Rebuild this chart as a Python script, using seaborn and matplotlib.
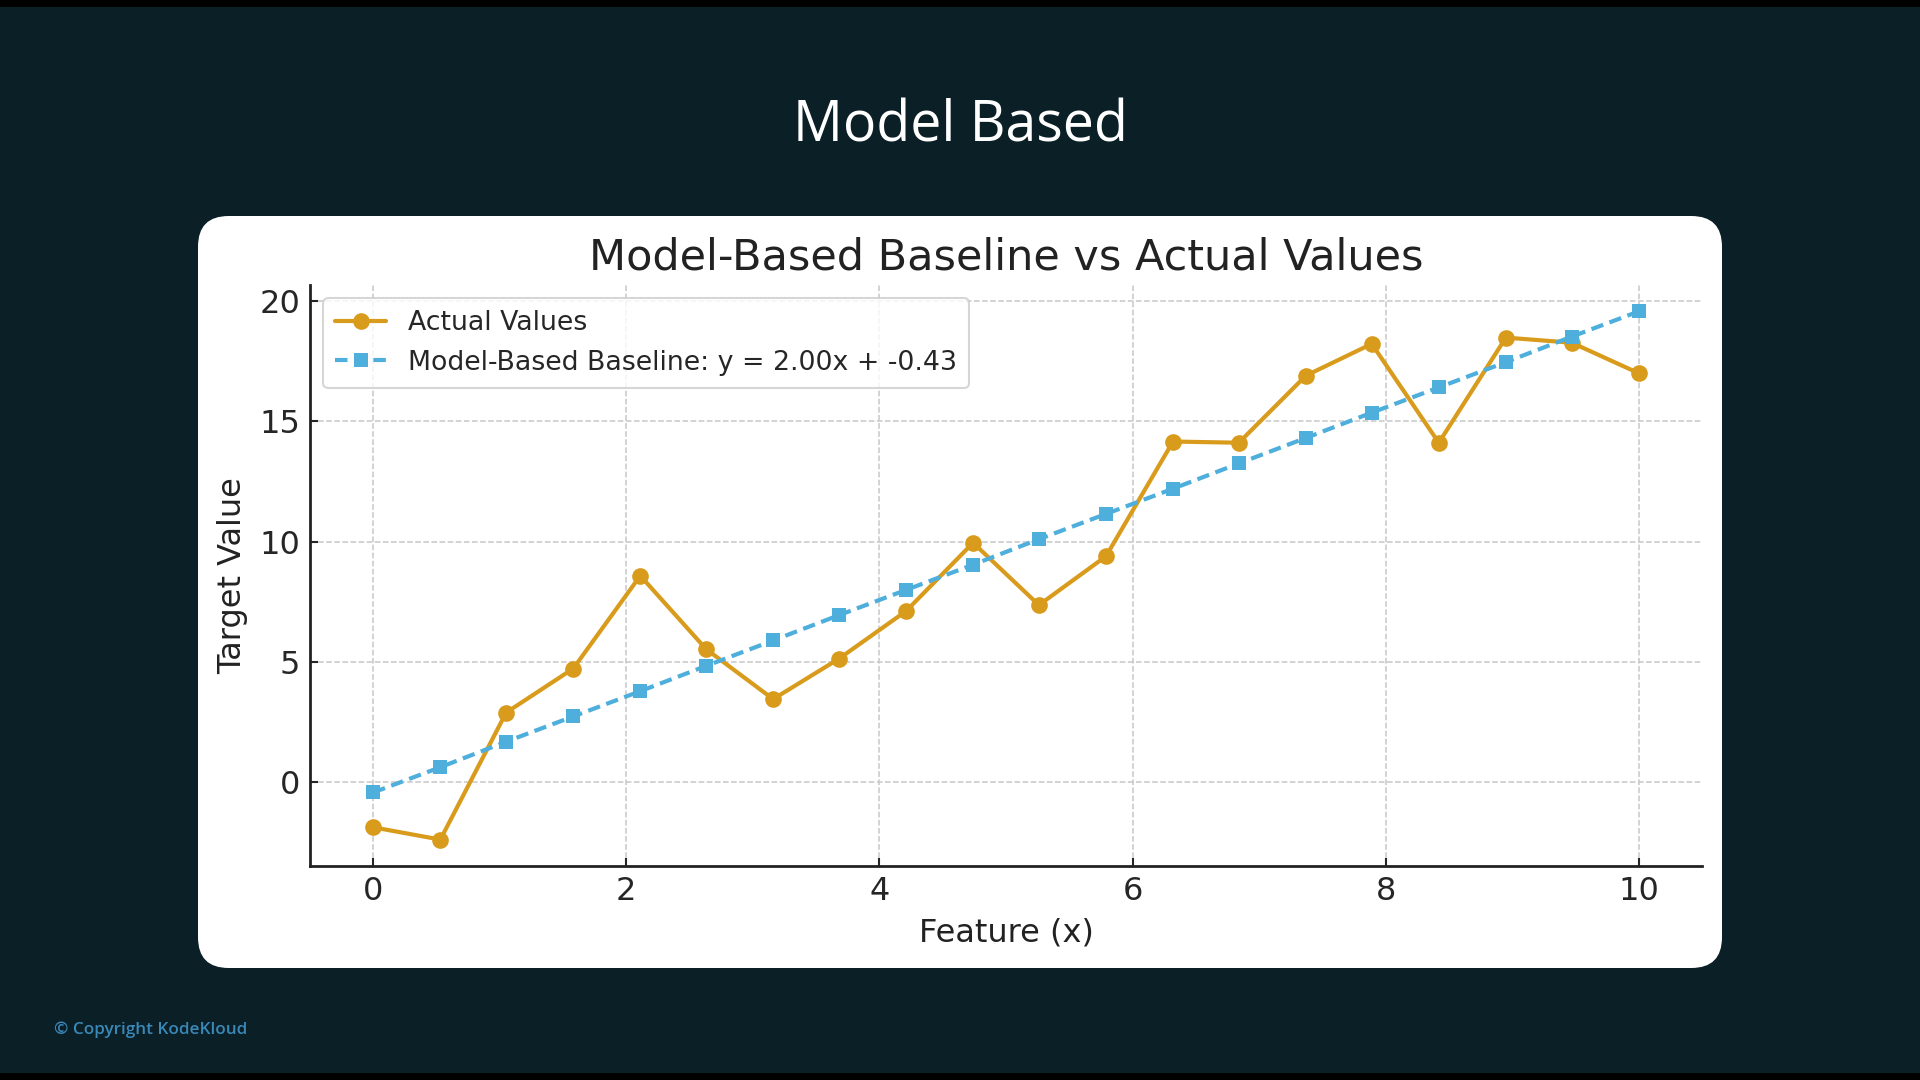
import pandas as pd
import seaborn as sns
import matplotlib.pyplot as plt
from matplotlib.patches import FancyBboxPatch, Rectangle


# feature values (20 evenly spaced points on 0..10)
feature_x = [0.00, 0.53, 1.05, 1.58, 2.11, 2.63, 3.16, 3.68, 4.21, 4.74,
             5.26, 5.79, 6.32, 6.84, 7.37, 7.89, 8.42, 8.95, 9.47, 10.00]
actual_y = [-1.88, -2.39, 2.89, 4.72, 8.58, 5.53, 3.45, 5.13, 7.11, 9.95,
            7.36, 9.39, 14.16, 14.11, 16.90, 18.22, 14.11, 18.48, 18.27, 17.00]
baseline_y = [-0.43, 0.62, 1.68, 2.73, 3.78, 4.83, 5.89, 6.94, 7.99, 9.04,
              10.10, 11.15, 12.20, 13.25, 14.31, 15.36, 16.41, 17.46, 18.52, 19.57]
baseline_label = "Model-Based Baseline: y = 2.00x + -0.43"

BG = "#0b1f27"
GOLD = "#d99b1c"
BLUE = "#4eaedc"


def make_plot(filename):
    sns.set_style("ticks")
    plt.rcParams["font.family"] = ["DejaVu Sans"]
    fig = plt.figure(figsize=(19.2, 10.8), dpi=100, facecolor=BG)

    # black strips at top and bottom of the slide
    fig.patches.append(Rectangle((0, 1 - 7 / 1080), 1, 7 / 1080, transform=fig.transFigure,
                                 facecolor="black", edgecolor="none", zorder=-10))
    fig.patches.append(Rectangle((0, 0), 1, 7 / 1080, transform=fig.transFigure,
                                 facecolor="black", edgecolor="none", zorder=-10))
    # white card behind the chart
    card = FancyBboxPatch((198 / 1920, 1 - 968 / 1080), (1722 - 198) / 1920, (968 - 216) / 1080,
                          boxstyle="round,pad=0,rounding_size=0.016", transform=fig.transFigure,
                          facecolor="white", edgecolor="none", zorder=-10, mutation_aspect=1920 / 1080)
    fig.patches.append(card)

    fig.text(0.5, 1 - 127 / 1080, "Model Based", ha="center", va="center",
             color="white", fontsize=40, family=["Open Sans", "DejaVu Sans"])
    fig.text(54 / 1920, 1 - 1030 / 1080, "\u00a9 Copyright KodeKloud", ha="left", va="center",
             color="#3a88b8", fontsize=12.3, family=["Open Sans", "DejaVu Sans"], weight="semibold")

    ax = fig.add_axes([310 / 1920, 1 - 866 / 1080, (1702 - 310) / 1920, (866 - 285) / 1080])
    ax.set_facecolor("white")

    df = pd.DataFrame({"x": feature_x, "actual": actual_y, "baseline": baseline_y})
    sns.lineplot(data=df, x="x", y="actual", ax=ax, color=GOLD, linewidth=3,
                 marker="o", markersize=12, markeredgewidth=0, label="Actual Values", zorder=3)
    sns.lineplot(data=df, x="x", y="baseline", ax=ax, color=BLUE, linewidth=3,
                 linestyle=(0, (3, 1.6)), marker="s", markersize=10.5, markeredgewidth=0,
                 label=baseline_label, zorder=3)

    ax.set_xticks([0, 2, 4, 6, 8, 10])
    ax.set_yticks([0, 5, 10, 15, 20])
    ax.grid(True, linestyle="--", color="#c8c8c8", linewidth=1.1)
    ax.tick_params(direction="in", labelsize=23, length=6, width=1.5, pad=7)
    for s in ["top", "right"]:
        ax.spines[s].set_visible(False)
    for s in ["left", "bottom"]:
        ax.spines[s].set_linewidth(2)
        ax.spines[s].set_color("#222222")

    ax.set_title("Model-Based Baseline vs Actual Values", fontsize=31, color="#222222", pad=11)
    ax.set_xlabel("Feature (x)", fontsize=23, color="#222222", labelpad=8)
    ax.set_ylabel("Target Value", fontsize=23, color="#222222", labelpad=8)

    leg = ax.legend(loc="upper left", fontsize=19.3, frameon=True, borderpad=0.45,
                    handlelength=1.9, labelspacing=0.5, borderaxespad=0.5)
    leg.get_frame().set_edgecolor("#cccccc")
    leg.get_frame().set_linewidth(1.5)

    fig.savefig(filename, dpi=100, facecolor=BG)


make_plot("out.png")
